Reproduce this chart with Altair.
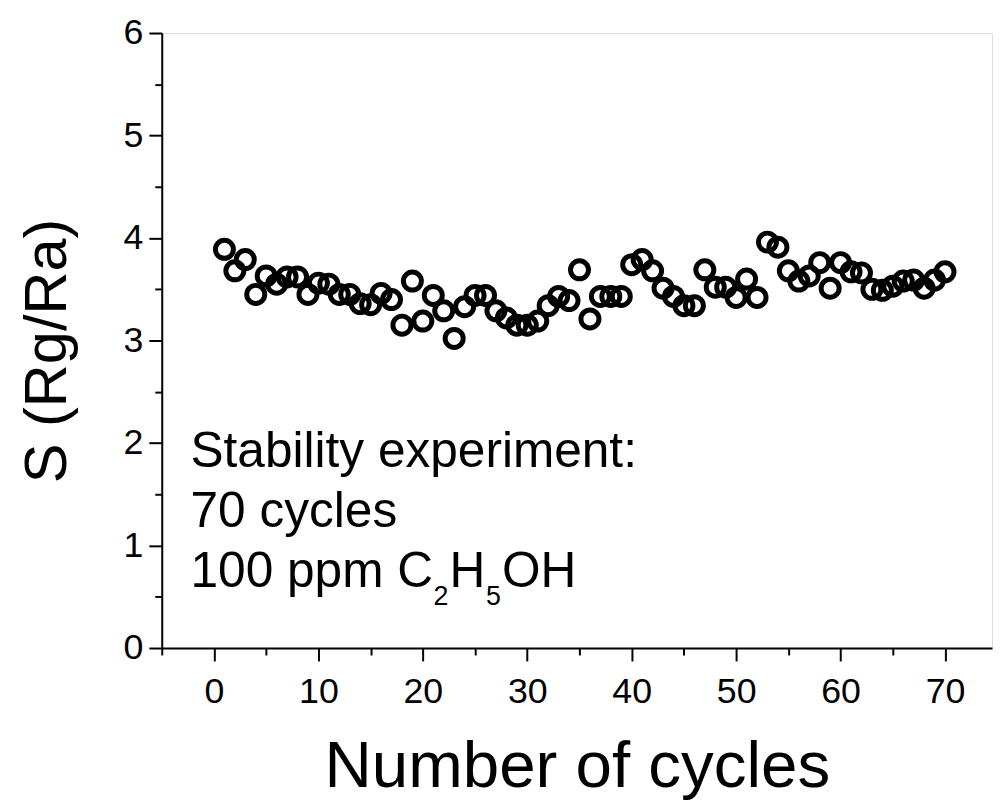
import altair as alt
import pandas as pd

cycles = list(range(1, 71))
response = [
    3.89, 3.68, 3.79, 3.45, 3.63, 3.55, 3.62, 3.62, 3.45, 3.56,
    3.55, 3.45, 3.45, 3.36, 3.35, 3.46, 3.40, 3.15, 3.58, 3.19,
    3.44, 3.29, 3.02, 3.33, 3.44, 3.44, 3.29, 3.22, 3.15, 3.15,
    3.19, 3.34, 3.43, 3.39, 3.69, 3.21, 3.43, 3.43, 3.43, 3.74,
    3.79, 3.68, 3.51, 3.43, 3.34, 3.34, 3.69, 3.52, 3.52, 3.42,
    3.60, 3.42, 3.96, 3.91, 3.68, 3.58, 3.63, 3.76, 3.51, 3.76,
    3.67, 3.66, 3.50, 3.49, 3.53, 3.58, 3.59, 3.51, 3.59, 3.67,
]
x_ticks = [-5, 0, 5, 10, 15, 20, 25, 30, 35, 40, 45, 50, 55, 60, 65, 70]
y_ticks = [0, 0.5, 1, 1.5, 2, 2.5, 3, 3.5, 4, 4.5, 5, 5.5, 6]

df = pd.DataFrame({"cycle": cycles, "S": response})

FONT = "Liberation Sans"
W, H = 837, 620

x_axis = alt.Axis(
    values=x_ticks,
    labelExpr="datum.value % 10 === 0 ? format(datum.value, 'd') : ''",
    tickSize={"condition": {"test": "datum.value % 10 === 0", "value": 13}, "value": 7},
    tickWidth=2, domainWidth=2, domainColor="black", tickColor="black",
    labelFontSize=36, labelFont=FONT, labelColor="black", labelPadding=14,
    grid=False, title="Number of cycles", titleFontSize=66, titleFont=FONT,
    titleFontWeight="normal", titleColor="black", titleY=140,
    titleBaseline="alphabetic", labelFlush=False,
)
y_axis = alt.Axis(
    values=y_ticks,
    labelExpr="datum.value % 1 === 0 ? format(datum.value, 'd') : ''",
    tickSize={"condition": {"test": "datum.value % 1 === 0", "value": 13}, "value": 7},
    tickWidth=2, domainWidth=2, domainColor="black", tickColor="black",
    labelFontSize=36, labelFont=FONT, labelColor="black", labelPadding=6,
    grid=False, title="S (Rg/Ra)", titleFontSize=60, titleFont=FONT,
    titleFontWeight="normal", titleColor="black", titleX=-115, titleY=320,
    titleBaseline="middle", titleAlign="center", titleAngle=270, labelFlush=False,
)

points = alt.Chart(df).mark_point(
    shape="circle", filled=False, stroke="black", strokeWidth=5, size=330, opacity=1
).encode(
    x=alt.X("cycle:Q", scale=alt.Scale(domain=[-5, 74.5], nice=False, zero=False), axis=x_axis),
    y=alt.Y("S:Q", scale=alt.Scale(domain=[0, 6], nice=False), axis=y_axis),
)

def txt(s, x, y, size=50):
    return alt.Chart(pd.DataFrame({"t": [s]})).mark_text(
        font=FONT, fontSize=size, align="left", baseline="alphabetic", color="black"
    ).encode(text="t:N", x=alt.value(x), y=alt.value(y))

notes = (
    txt("Stability experiment:", 29, 437)
    + txt("70 cycles", 29, 498)
    + txt("100 ppm C", 29, 558)
    + txt("2", 274, 577, 27)
    + txt("H", 290, 558)
    + txt("5", 327, 577, 27)
    + txt("OH", 343, 558)
)

chart = (points + notes).properties(
    width=W, height=H,
    autosize=alt.AutoSizeParams(type="none"),
    padding={"left": 155, "top": 22, "right": 2, "bottom": 152},
).configure_view(stroke=None).configure(background="white")

chart.save("out.html", embed_options={"renderer": "svg", "actions": False})
